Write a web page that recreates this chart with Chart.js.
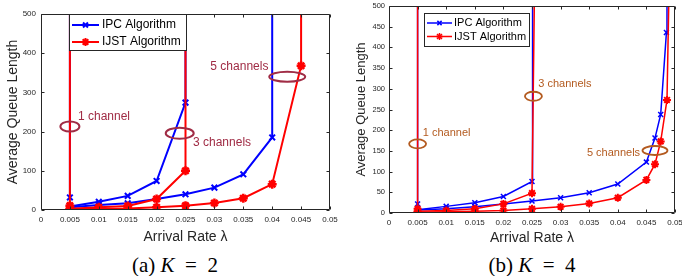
<!DOCTYPE html>
<html>
<head>
<meta charset="utf-8">
<script src="https://cdn.jsdelivr.net/npm/chart.js@4.4.0/dist/chart.umd.min.js"></script>
<style>
  body { margin: 0; background: #fff; width: 682px; height: 276px; position: relative; overflow: hidden; }
  .pane { position: absolute; top: 0; }
  #paneA { left: 0; }
  #paneB { left: 340px; }
  .cap { position: absolute; top: 253px; transform: translateX(-50%); white-space: nowrap;
         font-family: "Liberation Serif", "DejaVu Serif", serif; font-size: 21px; color: #000; }
</style>
</head>
<body>
<div class="pane" id="paneA"><canvas id="chartA" width="340" height="250"></canvas></div>
<div class="pane" id="paneB"><canvas id="chartB" width="342" height="250"></canvas></div>
<div class="cap" style="left:175px">(a) <i>K</i>&ensp;=&ensp;2</div>
<div class="cap" style="left:532px">(b) <i>K</i>&ensp;=&ensp;4</div>
<script>
// ticks
const xTickValues = [0, 0.005, 0.01, 0.015, 0.02, 0.025, 0.03, 0.035, 0.04, 0.045, 0.05];
const xTickLabels = ['0', '0.005', '0.01', '0.015', '0.02', '0.025', '0.03', '0.035', '0.04', '0.045', '0.05'];
const yTicksA = [0, 100, 200, 300, 400, 500];
const yTicksB = [0, 50, 100, 150, 200, 250, 300, 350, 400, 450, 500];

// (a) K = 2  -- last point of each series is where the queue blows up (top of axis)
const a1X = [0.005, 0.005];
const a1Ipc = [32, 500];
const a1Ijst = [11, 500];
const a3X = [0.005, 0.01, 0.015, 0.02, 0.025, 0.025];
const a3Ipc = [9, 21, 36, 74, 274, 500];
const a3Ijst = [3, 7, 10, 28, 100, 500];
const a5IpcX = [0.005, 0.01, 0.015, 0.02, 0.025, 0.03, 0.035, 0.04, 0.04];
const a5Ipc = [7, 13, 17, 28, 40, 57, 91, 185, 500];
const a5IjstX = [0.005, 0.01, 0.015, 0.02, 0.025, 0.03, 0.035, 0.04, 0.045, 0.045];
const a5Ijst = [1, 3, 4, 7, 11, 18, 30, 66, 368, 500];

// (b) K = 4
const b1X = [0.005, 0.005];
const b1Ipc = [22, 500];
const b1Ijst = [10, 500];
const b3IpcX = [0.005, 0.01, 0.015, 0.02, 0.025, 0.0251];
const b3Ipc = [8, 16, 25, 40, 76, 500];
const b3IjstX = [0.005, 0.01, 0.015, 0.02, 0.025, 0.0254];
const b3Ijst = [4, 6, 10, 22, 48, 500];
const b5IpcX = [0.005, 0.01, 0.015, 0.02, 0.025, 0.03, 0.035, 0.04, 0.045, 0.0465, 0.0475, 0.0485, 0.0486];
const b5Ipc = [7, 10, 15, 22, 29, 37, 49, 70, 123, 181, 238, 436, 500];
const b5IjstX = [0.005, 0.01, 0.015, 0.02, 0.025, 0.03, 0.035, 0.04, 0.045, 0.0465, 0.0475, 0.0486, 0.0489];
const b5Ijst = [2, 3, 4, 6, 10, 15, 23, 37, 80, 118, 173, 273, 500];

const BLUE = '#0000ff';
const RED = '#ff0000';
const AXIS = '#262626';
const SANS = '"Liberation Sans", Arial, sans-serif';

function pts(xs, ys) {
  return xs.map((x, i) => ({ x: x, y: ys[i] }));
}

function series(xs, ys, color, style, r, bw, lw) {
  return {
    data: pts(xs, ys),
    borderColor: color,
    backgroundColor: color,
    borderWidth: lw,
    pointStyle: style,
    pointRadius: c => (c.raw && c.raw.y >= 500 ? 0 : r),
    pointBorderWidth: bw,
    pointBorderColor: color,
    pointBackgroundColor: color,
    tension: 0,
    fill: false
  };
}

// frame with inward ticks, annotations (ellipses + labels), legend box
const framePlugin = {
  id: 'frame',
  afterDatasetsDraw(chart, args, o) {
    const { ctx, chartArea: a, scales: { x, y } } = chart;
    const L = Math.round(a.left) + 0.5, R = Math.round(a.right) - 0.5;
    const T = Math.round(a.top) + 0.5, B = Math.round(a.bottom) - 0.5;
    ctx.save();

    // annotations
    ctx.strokeStyle = o.noteColor;
    ctx.fillStyle = o.noteColor;
    ctx.lineWidth = o.ringWidth;
    o.rings.forEach(g => {
      ctx.beginPath();
      ctx.ellipse(x.getPixelForValue(g.x), y.getPixelForValue(g.y), g.rx, g.ry, 0, 0, Math.PI * 2);
      ctx.stroke();
    });
    ctx.font = o.noteSize + 'px ' + SANS;
    ctx.textAlign = 'left';
    ctx.textBaseline = 'middle';
    o.notes.forEach(n => ctx.fillText(n.text, x.getPixelForValue(n.x), y.getPixelForValue(n.y)));

    // box + ticks
    ctx.strokeStyle = AXIS;
    ctx.lineWidth = 1;
    ctx.beginPath();
    ctx.rect(L, T, R - L, B - T);
    const tl = 3;
    xTickValues.forEach(v => {
      const px = Math.round(x.getPixelForValue(v)) + 0.5;
      ctx.moveTo(px, B); ctx.lineTo(px, B - tl);
      ctx.moveTo(px, T); ctx.lineTo(px, T + tl);
    });
    o.yTicks.forEach(v => {
      const py = Math.round(y.getPixelForValue(v)) + 0.5;
      ctx.moveTo(L, py); ctx.lineTo(L + tl, py);
      ctx.moveTo(R, py); ctx.lineTo(R - tl, py);
    });
    ctx.stroke();

    // legend
    const lg = o.legend;
    const lx = a.left + lg.dx, ly = a.top + lg.dy;
    ctx.fillStyle = '#fff';
    ctx.fillRect(lx, ly, lg.w, lg.h);
    ctx.strokeStyle = AXIS;
    ctx.strokeRect(Math.round(lx) + 0.5, Math.round(ly) + 0.5, lg.w, lg.h);
    ctx.font = lg.size + 'px ' + SANS;
    ctx.textBaseline = 'middle';
    lg.items.forEach((it, i) => {
      const ry = ly + lg.row0 + i * lg.rowGap;
      ctx.strokeStyle = it.color;
      ctx.lineWidth = lg.lw;
      ctx.beginPath();
      ctx.moveTo(lx + 3, ry); ctx.lineTo(lx + 3 + lg.lineLen, ry);
      ctx.stroke();
      ctx.fillStyle = it.color;
      Chart.helpers.drawPoint(ctx, { pointStyle: it.style, radius: it.r, borderWidth: it.bw, rotation: 0 },
        lx + 3 + lg.lineLen / 2, ry);
      ctx.fillStyle = '#000';
      ctx.fillText(it.text, lx + lg.textX, ry);
    });
    ctx.restore();
  }
};

function makeChart(id, opt) {
  const W = opt.W, H = opt.H, area = opt.area;
  return new Chart(document.getElementById(id), {
    type: 'line',
    data: { datasets: opt.datasets },
    plugins: [framePlugin],
    options: {
      responsive: false,
      animation: false,
      devicePixelRatio: 1,
      layout: { padding: { left: 0, top: area.top, right: W - area.right, bottom: 0 } },
      plugins: {
        legend: { display: false },
        tooltip: { enabled: false },
        frame: opt.frame
      },
      scales: {
        x: {
          type: 'linear', min: 0, max: 0.05, offset: false,
          grid: { display: false, drawTicks: false, tickLength: 0 },
          border: { display: false },
          afterBuildTicks: s => { s.ticks = xTickValues.map(v => ({ value: v })); },
          afterFit: s => { s.height = H - area.bottom; s.paddingLeft = 0; s.paddingRight = 0; },
          ticks: {
            autoSkip: false, maxRotation: 0, color: AXIS, padding: opt.xTickPad,
            font: { family: SANS, size: opt.xTickSize },
            callback: (v, i) => xTickLabels[i]
          },
          title: {
            display: true, text: 'Arrival Rate \u03bb', color: AXIS,
            font: { family: SANS, size: 14 }, padding: { top: 0, bottom: opt.xTitlePad }
          }
        },
        y: {
          type: 'linear', min: 0, max: 500,
          grid: { display: false, drawTicks: false, tickLength: 0 },
          border: { display: false },
          afterBuildTicks: s => { s.ticks = opt.frame.yTicks.map(v => ({ value: v })); },
          afterFit: s => { s.width = area.left; s.paddingTop = 0; s.paddingBottom = 0; },
          ticks: {
            autoSkip: false, color: AXIS, padding: opt.yTickPad,
            font: { family: SANS, size: opt.yTickSize },
            callback: v => String(v)
          },
          title: {
            display: true, text: 'Average Queue Length', color: AXIS,
            font: { family: SANS, size: opt.yTitleSize }, padding: { top: opt.yTitlePad, bottom: 0 }
          }
        }
      }
    }
  });
}

// (a) K = 2
makeChart('chartA', {
  W: 340, H: 250,
  area: { left: 41, right: 330, top: 14, bottom: 210 },
  xTickPad: 5, xTickSize: 8, yTickPad: 5, yTickSize: 8,
  xTitlePad: 4, yTitlePad: 5, yTitleSize: 14,
  datasets: [
    series(a1X, a1Ijst, RED, 'star', 4.5, 2.5, 2),
    series(a3X, a3Ijst, RED, 'star', 4.5, 2.5, 2),
    series(a5IjstX, a5Ijst, RED, 'star', 4.5, 2.5, 2),
    series(a1X, a1Ipc, BLUE, 'crossRot', 4, 2, 2),
    series(a3X, a3Ipc, BLUE, 'crossRot', 4, 2, 2),
    series(a5IpcX, a5Ipc, BLUE, 'crossRot', 4, 2, 2)
  ],
  frame: {
    yTicks: yTicksA,
    noteColor: '#a02c45', noteSize: 12, ringWidth: 2,
    rings: [
      { x: 0.005, y: 213, rx: 9.5, ry: 5 },
      { x: 0.024, y: 196, rx: 14, ry: 5.5 },
      { x: 0.0426, y: 340, rx: 18, ry: 5 }
    ],
    notes: [
      { text: '1 channel', x: 0.0064, y: 238 },
      { text: '3 channels', x: 0.0263, y: 171 },
      { text: '5 channels', x: 0.0293, y: 366 }
    ],
    legend: {
      dx: 28, dy: 0, w: 117, h: 36, size: 12, lw: 2, lineLen: 27, textX: 33, row0: 11, rowGap: 17,
      items: [
        { text: 'IPC Algorithm', color: BLUE, style: 'crossRot', r: 3.5, bw: 2 },
        { text: 'IJST Algorithm', color: RED, style: 'star', r: 4, bw: 2.5 }
      ]
    }
  }
});

// (b) K = 4
makeChart('chartB', {
  W: 342, H: 250,
  area: { left: 49, right: 335, top: 6, bottom: 213 },
  xTickPad: 5, xTickSize: 8, yTickPad: 4, yTickSize: 7.5,
  xTitlePad: 3, yTitlePad: 14, yTitleSize: 13,
  datasets: [
    series(b1X, b1Ijst, RED, 'star', 4, 2, 1.5),
    series(b3IjstX, b3Ijst, RED, 'star', 4, 2, 1.5),
    series(b5IjstX, b5Ijst, RED, 'star', 4, 2, 1.5),
    series(b1X, b1Ipc, BLUE, 'crossRot', 3.5, 1.5, 1.5),
    series(b3IpcX, b3Ipc, BLUE, 'crossRot', 3.5, 1.5, 1.5),
    series(b5IpcX, b5Ipc, BLUE, 'crossRot', 3.5, 1.5, 1.5)
  ],
  frame: {
    yTicks: yTicksB,
    noteColor: '#b35a1f', noteSize: 11, ringWidth: 1.8,
    rings: [
      { x: 0.005, y: 167, rx: 8.5, ry: 4.5 },
      { x: 0.02525, y: 282, rx: 8.5, ry: 4.5 },
      { x: 0.0465, y: 151, rx: 12.5, ry: 4.5 }
    ],
    notes: [
      { text: '1 channel', x: 0.0059, y: 193 },
      { text: '3 channels', x: 0.0261, y: 311 },
      { text: '5 channels', x: 0.0346, y: 146 }
    ],
    legend: {
      dx: 35, dy: 7, w: 105, h: 33, size: 11, lw: 1.5, lineLen: 25, textX: 30, row0: 10, rowGap: 13.5,
      items: [
        { text: 'IPC Algorithm', color: BLUE, style: 'crossRot', r: 3, bw: 1.5 },
        { text: 'IJST Algorithm', color: RED, style: 'star', r: 3.5, bw: 2 }
      ]
    }
  }
});
</script>
</body>
</html>
